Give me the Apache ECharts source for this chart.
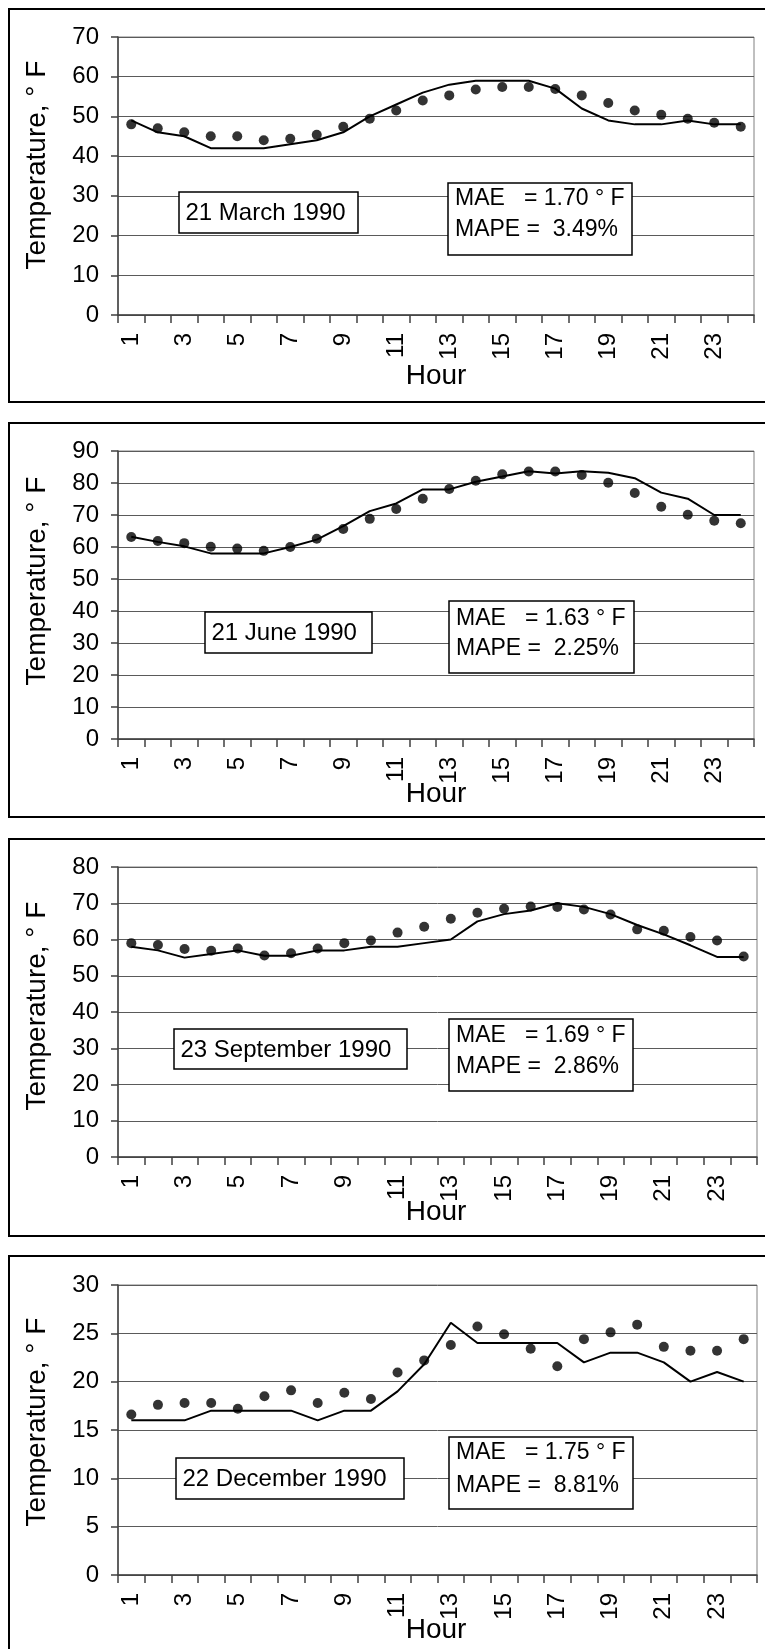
<!DOCTYPE html>
<html><head><meta charset="utf-8">
<script src="https://cdn.jsdelivr.net/npm/echarts@6/dist/echarts.min.js"></script>
<style>html,body{margin:0;padding:0;background:#fff}#c{width:765px;height:1649px}</style>
</head><body><div id="c"></div>
<script>
// ---- data ----
const hours = ['1','2','3','4','5','6','7','8','9','10','11','12','13','14','15','16','17','18','19','20','21','22','23','24'];

const marchActual = [48,47,46,45,45,44,44.4,45.4,47.4,49.4,51.5,54,55.3,56.8,57.4,57.4,56.9,55.3,53.4,51.5,50.4,49.4,48.4,47.4];
const marchPred   = [49,46,45,42,42,42,43,44,46,50,53,56,58,59,59,59,57,52,49,48,48,49,48,48];

const juneActual = [63.1,61.9,61.2,60.1,59.5,58.8,60,62.6,65.6,68.8,71.9,75.1,78.1,80.7,82.7,83.6,83.6,82.5,80.1,76.9,72.6,70.1,68.2,67.4];
const junePred   = [63.2,61.6,60.2,58,58,58,60,62.3,66.5,71.2,73.6,78,78,80.4,82,83.7,83,83.7,83.2,81.5,77,75.1,70,70];

const septActual = [59,58.5,57.4,56.9,57.5,55.6,56.2,57.5,59,59.7,61.9,63.5,65.7,67.4,68.5,69.1,69,68.3,66.9,62.8,62.4,60.7,59.7,55.3];
const septPred   = [58,57,55,56,57,55.5,55.5,57,57,58,58,59,60,65,67,68,70,69,67,64,61.4,58.4,55.2,55.2];

const decActual = [16.6,17.6,17.8,17.8,17.2,18.5,19.1,17.8,18.85,18.2,20.95,22.2,23.8,25.7,24.9,23.4,21.6,24.4,25.1,25.9,23.6,23.2,23.2,24.4];
const decPred   = [16,16,16,17,17,17,17,16,17,17,19,21.8,26.1,24,24,24,24,22,23,23,22,20,21,20];

const dateLabels = ['21 March 1990','21 June 1990','23 September 1990','22 December 1990'];
const maeValues  = ['1.70','1.63','1.69','1.75'];
const mapeValues = ['3.49','2.25','2.86','8.81'];
const yMax = [70,90,80,30];
const yInterval = [10,10,10,5];
const yTitle = 'Temperature, ° F';
const xTitle = 'Hour';

// ---- layout ----
const FONT = '"Liberation Sans", Arial, sans-serif';
const panels = [
  {top:37,  h:278, right:11, frame:[9,402],     title:165,  hour:376,  lab:[179,192,179,41],  st:[448,183,184,72], l1:199,  l2:230},
  {top:451, h:288, right:11, frame:[423,817],   title:581,  hour:794,  lab:[205,612,167,41],  st:[449,601,185,72], l1:619,  l2:649},
  {top:867, h:290, right:8,  frame:[839,1236],  title:1006, hour:1212, lab:[174,1029,233,40], st:[449,1019,184,72], l1:1036, l2:1067},
  {top:1285,h:290, right:8,  frame:[1256,1670], title:1422, hour:1630, lab:[176,1458,228,41], st:[449,1437,184,72], l1:1453, l2:1486}
];
const actual = [marchActual, juneActual, septActual, decActual];
const pred = [marchPred, junePred, septPred, decPred];

const grid = [], xAxis = [], yAxis = [], series = [], graphic = [];
panels.forEach((p, i) => {
  grid.push({left:118, top:p.top, right:p.right, height:p.h, show:true, borderColor:'#808080', borderWidth:1, containLabel:false});
  xAxis.push({
    type:'category', gridIndex:i, data:hours, boundaryGap:true,
    axisLine:{show:true, lineStyle:{color:'#404040', width:1.5}},
    axisTick:{show:true, interval:0, length:8, lineStyle:{color:'#404040', width:1.5}},
    axisLabel:{interval:1, rotate:90, margin:18, color:'#000', fontSize:24, fontFamily:FONT},
    splitLine:{show:false}
  });
  yAxis.push({
    type:'value', gridIndex:i, min:0, max:yMax[i], interval:yInterval[i],
    axisLine:{show:true, lineStyle:{color:'#404040', width:1.5}},
    axisTick:{show:true, length:7, lineStyle:{color:'#404040', width:1.5}},
    axisLabel:{margin:19, color:'#000', fontSize:24, fontFamily:FONT},
    splitLine:{show:true, lineStyle:{color:'#5a5a5a', width:1}}
  });
  series.push({type:'line', xAxisIndex:i, yAxisIndex:i, data:pred[i], symbol:'none', silent:true,
    lineStyle:{color:'#000', width:2}, z:3});
  series.push({type:'scatter', xAxisIndex:i, yAxisIndex:i, data:actual[i], symbol:'circle', symbolSize:10, silent:true,
    itemStyle:{color:'#000'}, z:4});

  // frame
  graphic.push({type:'rect', shape:{x:9, y:p.frame[0], width:780, height:p.frame[1]-p.frame[0]},
    style:{fill:'none', stroke:'#000', lineWidth:2}, z:1, silent:true});
  // titles
  graphic.push({type:'text', x:37, y:p.title, rotation:Math.PI/2,
    style:{text:yTitle, font:'28px ' + FONT, fill:'#000', align:'center', verticalAlign:'middle'}, z:5});
  graphic.push({type:'text', x:436, y:p.hour,
    style:{text:xTitle, font:'28px ' + FONT, fill:'#000', align:'center', verticalAlign:'middle'}, z:5});
  // date label box
  graphic.push({type:'rect', shape:{x:p.lab[0], y:p.lab[1], width:p.lab[2], height:p.lab[3]},
    style:{fill:'#fff', stroke:'#000', lineWidth:1.5}, z:10});
  graphic.push({type:'text', x:p.lab[0]+6.5, y:p.lab[1]+p.lab[3]/2+1,
    style:{text:dateLabels[i], font:'24px ' + FONT, fill:'#000', align:'left', verticalAlign:'middle'}, z:11});
  // stats box
  graphic.push({type:'rect', shape:{x:p.st[0], y:p.st[1], width:p.st[2], height:p.st[3]},
    style:{fill:'#fff', stroke:'#000', lineWidth:1.5}, z:10});
  graphic.push({type:'text', x:p.st[0]+7, y:p.l1,
    style:{text:'MAE   = ' + maeValues[i] + ' ° F', font:'23px ' + FONT, fill:'#000', align:'left', verticalAlign:'middle'}, z:11});
  graphic.push({type:'text', x:p.st[0]+7, y:p.l2,
    style:{text:'MAPE =  ' + mapeValues[i] + '%', font:'23px ' + FONT, fill:'#000', align:'left', verticalAlign:'middle'}, z:11});
});

const chart = echarts.init(document.getElementById('c'), null, {renderer:'canvas'});
chart.setOption({animation:false, backgroundColor:'#fff', grid, xAxis, yAxis, series, graphic});
</script>
</body></html>
